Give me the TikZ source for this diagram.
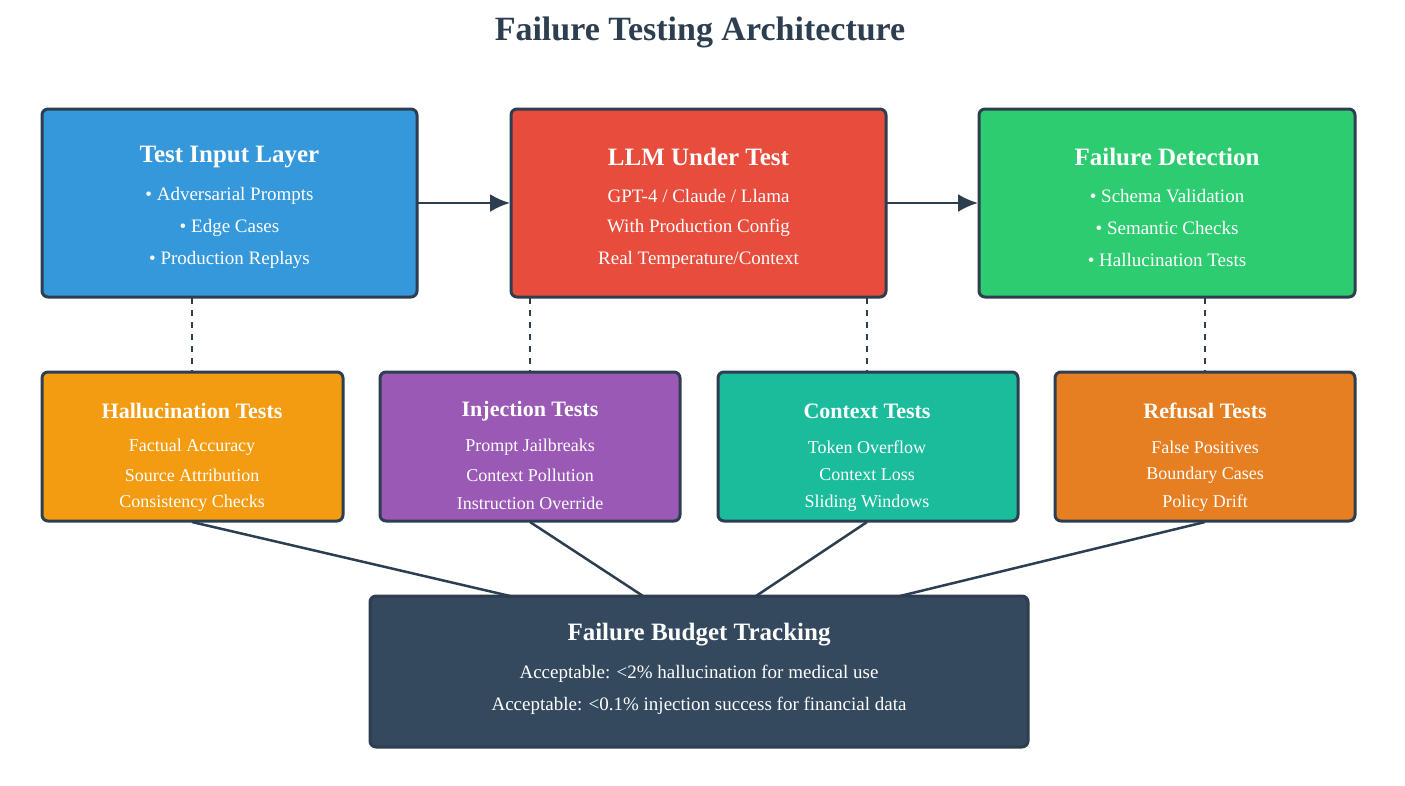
\documentclass[tikz,border=0pt]{standalone}
\usepackage{fontspec}
\setmainfont{Liberation Serif}
\usetikzlibrary{arrows.meta}
\definecolor{edge}{HTML}{2C3E50}
\definecolor{cblue}{HTML}{3498DB}
\definecolor{cred}{HTML}{E74C3C}
\definecolor{cgreen}{HTML}{2ECC71}
\definecolor{corange}{HTML}{F39C12}
\definecolor{cpurple}{HTML}{9B59B6}
\definecolor{cteal}{HTML}{1ABC9C}
\definecolor{corange2}{HTML}{E67E22}
\definecolor{cnavy}{HTML}{34495E}
\begin{document}
\begin{tikzpicture}[x=1pt,y=-1pt,
 box/.style={draw=edge,line width=3pt,rounded corners=6pt},
 ttl/.style={text=white,font=\fontsize{25}{30}\selectfont\bfseries},
 itm/.style={text=white,font=\fontsize{19}{23}\selectfont},
 ttl2/.style={text=white,font=\fontsize{22}{26}\selectfont\bfseries},
 itm2/.style={text=white,font=\fontsize{18}{22}\selectfont},
 conn/.style={draw=edge,line width=2.5pt},
 dconn/.style={draw=edge,line width=2.5pt,dash pattern=on 6pt off 6pt}]
\useasboundingbox (0,0) rectangle (1405,785);
\node[text=edge,font=\fontsize{34}{40}\selectfont\bfseries] (title) at (700,32) {Failure Testing Architecture};
% top row
\draw[box,fill=cblue] (42,109) rectangle (417,297);
\draw[box,fill=cred] (511,109) rectangle (886,297);
\draw[box,fill=cgreen] (979,109) rectangle (1355,297);
\node (a) at (229.5,203) {}; \node (b) at (698.5,203) {}; \node (c) at (1167,203) {};
\node[ttl] at (229.5,157) {Test Input Layer};
\node[itm] at (229.5,196) {• Adversarial Prompts};
\node[itm] at (229.5,228) {• Edge Cases};
\node[itm] at (229.5,260) {• Production Replays};
\node[ttl] at (698.5,157) {LLM Under Test};
\node[itm] at (698.5,196) {GPT-4 / Claude / Llama};
\node[itm] at (698.5,228) {With Production Config};
\node[itm] at (698.5,260) {Real Temperature/Context};
\node[ttl] at (1167,157) {Failure Detection};
\node[itm] at (1167,196) {• Schema Validation};
\node[itm] at (1167,228) {• Semantic Checks};
\node[itm] at (1167,260) {• Hallucination Tests};
\coordinate (a1) at (417,203); \coordinate (b0) at (510,203);
\coordinate (b1) at (886,203); \coordinate (c0) at (978,203);
\draw[conn,-{Latex[length=20pt,width=18pt]}] (a1) -- (b0);
\draw[conn,-{Latex[length=20pt,width=18pt]}] (b1) -- (c0);
% second row
\draw[box,fill=corange] (42,372) rectangle (343,521);
\draw[box,fill=cpurple] (380,372) rectangle (680,521);
\draw[box,fill=cteal] (718,372) rectangle (1018,521);
\draw[box,fill=corange2] (1055,372) rectangle (1355,521);
\node[ttl2] at (192,411) {Hallucination Tests};
\node[itm2] at (192,447) {Factual Accuracy};
\node[itm2] at (192,475) {Source Attribution};
\node[itm2] at (192,503) {Consistency Checks};
\node[ttl2] at (530,411) {Injection Tests};
\node[itm2] at (530,447) {Prompt Jailbreaks};
\node[itm2] at (530,475) {Context Pollution};
\node[itm2] at (530,503) {Instruction Override};
\node[ttl2] at (867,411) {Context Tests};
\node[itm2] at (867,447) {Token Overflow};
\node[itm2] at (867,475) {Context Loss};
\node[itm2] at (867,503) {Sliding Windows};
\node[ttl2] at (1205,411) {Refusal Tests};
\node[itm2] at (1205,447) {False Positives};
\node[itm2] at (1205,475) {Boundary Cases};
\node[itm2] at (1205,503) {Policy Drift};
\draw[dconn] (192,298) -- (192,371);
\draw[dconn] (530,298) -- (530,371);
\draw[dconn] (867,298) -- (867,371);
\draw[dconn] (1205,298) -- (1205,371);
% budget
\draw[conn] (192,522) -- (510,596);
\draw[conn] (530,522) -- (643,596);
\draw[conn] (867,522) -- (756,596);
\draw[conn] (1205,522) -- (900,596);
\draw[box,fill=cnavy] (370,596) rectangle (1028,747);
\node[ttl] at (699,635) {Failure Budget Tracking};
\node[itm] at (699,674) {Acceptable: <2\% hallucination for medical use};
\node[itm] at (699,706) {Acceptable: <0.1\% injection success for financial data};
\end{tikzpicture}
\end{document}
